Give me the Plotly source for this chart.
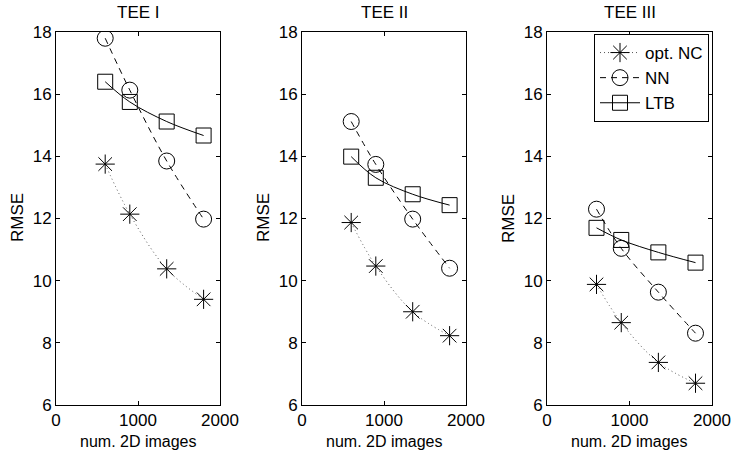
import plotly.graph_objects as go

x_images = [600, 900, 1350, 1800]
panel_titles = ["TEE I", "TEE II", "TEE III"]
series_names = ["opt. NC", "NN", "LTB"]

nc_vals = [[13.75, 12.14, 10.38, 9.40],
           [11.87, 10.47, 9.00, 8.23],
           [9.88, 8.65, 7.37, 6.70]]
nn_vals = [[17.80, 16.13, 13.85, 11.98],
           [15.12, 13.74, 11.98, 10.40],
           [12.30, 11.04, 9.63, 8.31]]
ltb_vals = [[16.40, 15.75, 15.12, 14.67],
            [13.99, 13.31, 12.78, 12.43],
            [11.70, 11.31, 10.91, 10.58]]

x_ticks = [0, 1000, 2000]
y_ticks = [6, 8, 10, 12, 14, 16, 18]

W, H = 732, 450
L, R, T, B = 56, 20, 32, 45
PW = W - L - R
PH = H - T - B
px_domains = [[56, 220], [302, 466], [547, 712]]
x_domains = [[(a - L) / PW, (b - L) / PW] for a, b in px_domains]
ytitle_px = [17, 263, 508]


def px_x(v):
    return (v - L) / PW


def px_y(v):
    return 1 - (v - T) / PH


FONT = "Liberation Sans, Arial, Helvetica, sans-serif"
FS = 17
fig = go.Figure()

styles = [
    dict(symbol="asterisk-open", dash="1px,3px", size=16, color="#555555"),
    dict(symbol="circle-open", dash="6px,5px", size=16, color="black"),
    dict(symbol="square-open", dash="solid", size=15, color="black"),
]
data_sets = [nc_vals, nn_vals, ltb_vals]

for p in range(3):
    xa = "x" if p == 0 else f"x{p+1}"
    ya = "y" if p == 0 else f"y{p+1}"
    for s in range(3):
        fig.add_trace(go.Scatter(
            x=x_images, y=data_sets[s][p], mode="lines+markers",
            name=series_names[s], showlegend=(p == 2),
            xaxis=xa, yaxis=ya,
            line=dict(color=styles[s]["color"], width=1, dash=styles[s]["dash"], shape="spline"),
            marker=dict(symbol=styles[s]["symbol"], size=styles[s]["size"],
                        color="black", line=dict(color="black", width=1)),
        ))

layout = dict(
    width=W, height=H,
    margin=dict(l=L, r=R, t=T, b=B, autoexpand=False),
    paper_bgcolor="white", plot_bgcolor="white",
    font=dict(family=FONT, size=FS, color="black"),
    legend=dict(
        x=px_x(709), y=px_y(34), xanchor="right", yanchor="top",
        bgcolor="white", bordercolor="black", borderwidth=1,
        font=dict(size=FS), tracegroupgap=0, itemwidth=40,
        entrywidth=72, entrywidthmode="pixels",
    ),
    annotations=[],
)

for p in range(3):
    suffix = "" if p == 0 else str(p + 1)
    layout["xaxis" + suffix] = dict(
        domain=x_domains[p], range=[0, 2000], tickvals=x_ticks,
        ticks="inside", ticklen=4, tickcolor="black", mirror="ticks",
        showline=True, linecolor="black", linewidth=1, showgrid=False, zeroline=False,
        anchor="y" + suffix, automargin=False,
        tickfont=dict(size=FS),
    )
    layout["yaxis" + suffix] = dict(
        range=[6, 18], tickvals=y_ticks,
        ticks="inside", ticklen=4, tickcolor="black", mirror="ticks",
        showline=True, linecolor="black", linewidth=1, showgrid=False, zeroline=False,
        anchor="x" + suffix, automargin=False,
        tickfont=dict(size=FS),
    )
    cx = (px_domains[p][0] + px_domains[p][1]) / 2
    layout["annotations"].append(dict(
        text=panel_titles[p], xref="paper", yref="paper",
        x=px_x(cx), y=px_y(13), xanchor="center", yanchor="middle",
        showarrow=False, font=dict(size=FS),
    ))
    layout["annotations"].append(dict(
        text="num. 2D images", xref="paper", yref="paper",
        x=px_x(cx), y=px_y(441), xanchor="center", yanchor="middle",
        showarrow=False, font=dict(size=16), borderpad=0,
    ))
    layout["annotations"].append(dict(
        text="RMSE", xref="paper", yref="paper", textangle=-90,
        x=px_x(ytitle_px[p]), y=px_y(218), xanchor="center", yanchor="middle",
        showarrow=False, font=dict(size=FS),
    ))

fig.update_layout(**layout)
fig.write_html("out.html")
